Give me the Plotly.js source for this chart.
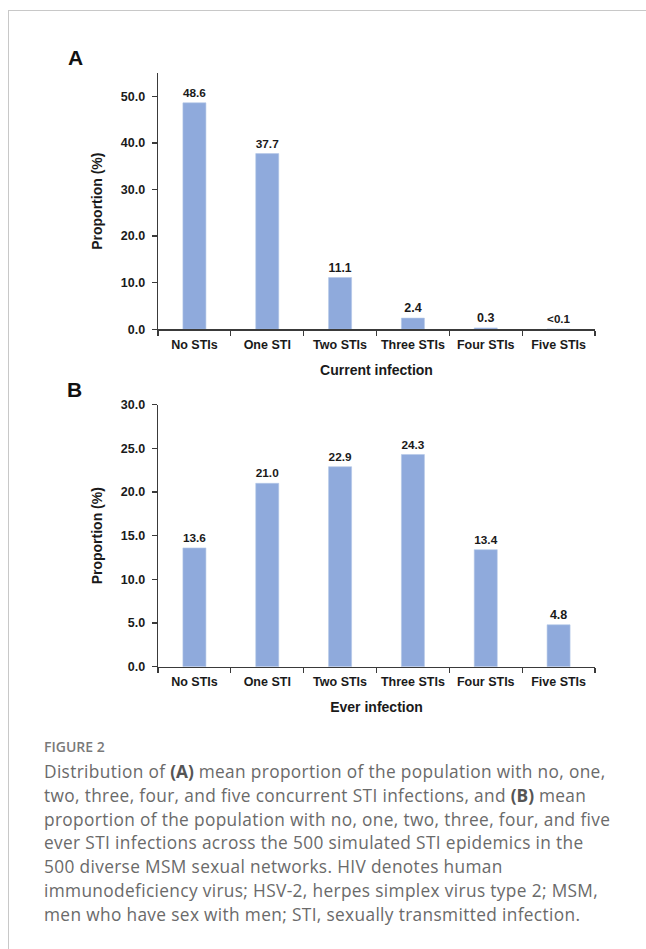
<!DOCTYPE html>
<html>
<head>
<meta charset="utf-8">
<script src="https://cdn.plot.ly/plotly-3.0.1.min.js"></script>
<style>
  html, body { margin: 0; padding: 0; background: #ffffff; }
  #wrap { position: relative; width: 646px; height: 949px; overflow: hidden; }
  #chart { position: absolute; left: 0; top: 0; width: 646px; height: 949px; }
  #frameTop { position: absolute; left: 8px; top: 10px; width: 638px; height: 0; border-top: 1.5px solid #c8c8c8; }
  #frameLeft { position: absolute; left: 8px; top: 10px; width: 0; height: 939px; border-left: 1.5px solid #c8c8c8; }
  #figlabel { position: absolute; left: 44px; top: 737px; font-family: "Open Sans", sans-serif; font-size: 14px; font-weight: 600; color: #7a7a7a; }
  #caption { position: absolute; left: 44px; top: 760px; width: 602px; font-family: "Open Sans", sans-serif; font-size: 17.3px; line-height: 23.8px; letter-spacing: 0.35px; color: #6a6a6a; white-space: nowrap; }
  #caption b { font-weight: 700; color: #555; letter-spacing: 0; }
</style>
</head>
<body>
<div id="wrap">
  <div id="chart"></div>
  <div id="frameTop"></div>
  <div id="frameLeft"></div>
  <div id="figlabel">FIGURE 2</div>
  <div id="caption">Distribution of <b>(A)</b> mean proportion of the population with no, one,<br>two, three, four, and five concurrent STI infections, and <b>(B)</b> mean<br>proportion of the population with no, one, two, three, four, and five<br>ever STI infections across the 500 simulated STI epidemics in the<br>500 diverse MSM sexual networks. HIV denotes human<br>immunodeficiency virus; HSV-2, herpes simplex virus type 2; MSM,<br>men who have sex with men; STI, sexually transmitted infection.</div>
</div>
<script>
const categories = ["No STIs", "One STI", "Two STIs", "Three STIs", "Four STIs", "Five STIs"];
const currentValues = [48.6, 37.7, 11.1, 2.4, 0.3, 0.05];
const currentLabels = ["48.6", "37.7", "11.1", "2.4", "0.3", "<0.1"];
const everValues = [13.6, 21.0, 22.9, 24.3, 13.4, 4.8];
const everLabels = ["13.6", "21.0", "22.9", "24.3", "13.4", "4.8"];

const W = 646, H = 949;
const px = v => v / W;
const py = v => 1 - v / H;

const barColor = "#8faadc";
const axisColor = "#3a3a3a";
const fontFam = "Liberation Sans, Arial, sans-serif";

const labelFont = { family: fontFam, size: 12.5, color: "#1a1a1a", weight: 700 };

const traces = [
  {
    type: "bar", x: categories, y: currentValues, text: currentLabels,
    textposition: "outside", cliponaxis: false, textfont: labelFont,
    marker: { color: barColor, line: { color: "#b4c7e7", width: 0.6 } },
    xaxis: "x", yaxis: "y", hoverinfo: "x+y", showlegend: false
  },
  {
    type: "bar", x: categories, y: everValues, text: everLabels,
    textposition: "outside", cliponaxis: false, textfont: labelFont,
    marker: { color: barColor, line: { color: "#b4c7e7", width: 0.6 } },
    xaxis: "x2", yaxis: "y2", hoverinfo: "x+y", showlegend: false
  }
];

const tickFont = { family: fontFam, size: 12.5, color: "#1a1a1a", weight: 700 };
const titleFont = { family: fontFam, size: 14, color: "#1a1a1a", weight: 700 };

function xAxis(anchor, title) {
  return {
    domain: [px(158), px(595)], anchor: anchor,
    type: "category", showline: true, linecolor: axisColor, linewidth: 1.3,
    ticks: "outside", tickson: "boundaries", ticklen: 5, tickwidth: 1.3, tickcolor: axisColor,
    ticklabelstandoff: 3, tickangle: 0,
    tickfont: tickFont, showgrid: false, zeroline: false, fixedrange: true,
    title: { text: title, font: titleFont, standoff: 14 }
  };
}
function yAxis(anchor, dom, range, dtick) {
  return {
    domain: dom, anchor: anchor, range: range, dtick: dtick, tick0: 0,
    tickformat: ".1f", showline: true, linecolor: axisColor, linewidth: 1.3,
    ticks: "outside", ticklen: 5, tickwidth: 1.3, tickcolor: axisColor,
    ticklabelstandoff: 4,
    tickfont: tickFont, showgrid: false, zeroline: false, fixedrange: true,
    title: { text: "Proportion (%)", font: titleFont, standoff: 15 }
  };
}

const layout = {
  width: W, height: H,
  margin: { l: 0, r: 0, t: 0, b: 0 },
  paper_bgcolor: "rgba(0,0,0,0)", plot_bgcolor: "rgba(0,0,0,0)",
  bargap: 0.684,
  font: { family: fontFam },
  xaxis: xAxis("y", "Current infection"),
  yaxis: yAxis("x", [py(329.3), py(73)], [0, 55], 10),
  xaxis2: xAxis("y2", "Ever infection"),
  yaxis2: yAxis("x2", [py(666.7), py(404.7)], [0, 30], 5),
  annotations: [
    { text: "A", xref: "paper", yref: "paper", x: px(75.5), y: py(57.5), xanchor: "center", yanchor: "middle",
      showarrow: false, font: { family: fontFam, size: 21, color: "#111", weight: 700 } },
    { text: "B", xref: "paper", yref: "paper", x: px(74.5), y: py(389.5), xanchor: "center", yanchor: "middle",
      showarrow: false, font: { family: fontFam, size: 21, color: "#111", weight: 700 } }
  ]
};

Plotly.newPlot("chart", traces, layout, { staticPlot: true, displayModeBar: false });
</script>
</body>
</html>
